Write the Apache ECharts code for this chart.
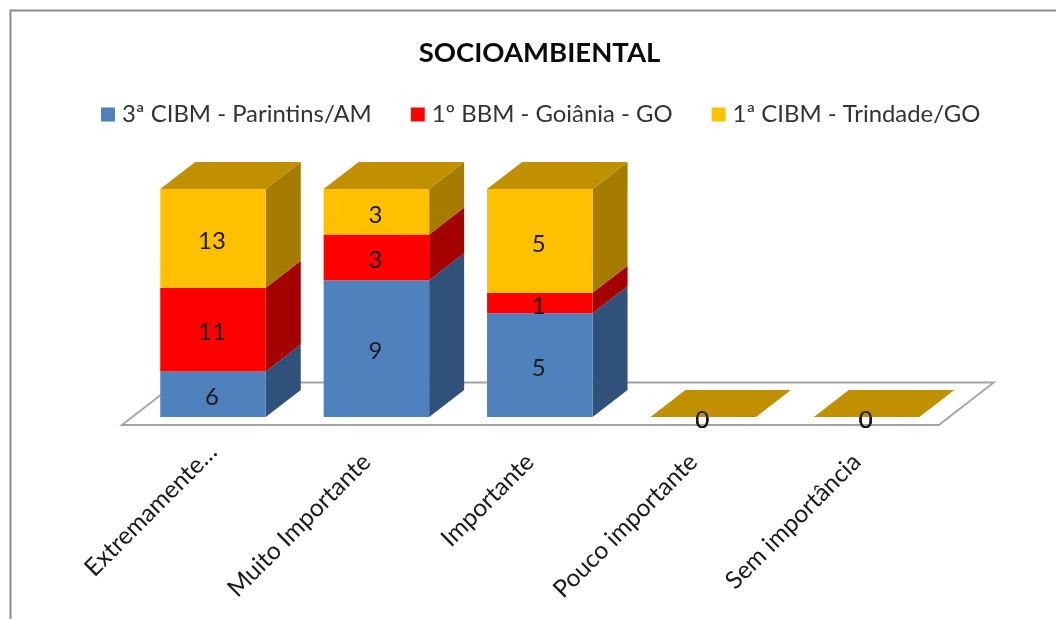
<!DOCTYPE html>
<html>
<head>
<meta charset="utf-8">
<style>html,body{margin:0;padding:0;background:#fff}#c{width:1056px;height:619px}</style>
<script src="https://cdn.jsdelivr.net/npm/echarts@6/dist/echarts.min.js"></script>
</head>
<body>
<div id="c"></div>
<script>
var chartTitle = 'SOCIOAMBIENTAL';
var categories = ['Extremamente…', 'Muito Importante', 'Importante', 'Pouco importante', 'Sem importância'];
var seriesNames = ['3ª CIBM - Parintins/AM', '1º BBM - Goiânia - GO', '1ª CIBM - Trindade/GO'];
var parintins = [6, 9, 5, 0, 0];
var goiania = [11, 3, 1, 0, 0];
var trindade = [13, 3, 5, 0, 0];
var stacks = [parintins, goiania, trindade];
var frontColors = ['#4F81BD', '#FF0000', '#FFC000'];
var sideColors = ['#30527A', '#A50000', '#A67C00'];
var topColor = '#C09000';
var FONT = 'Lato';
var DX = 35, DY = -27, BAR_W = 105.5;

function seriesData(k) {
  return categories.map(function (c, i) {
    var total = 0, before = 0;
    stacks.forEach(function (s, j) { total += s[i]; if (j < k) before += s[i]; });
    var start = total ? before / total : 0;
    var end = total ? (before + stacks[k][i]) / total : 0;
    return [i, start, end, stacks[k][i]];
  });
}
function poly(pts, color) {
  return { type: 'polygon', shape: { points: pts }, style: { fill: color }, silent: true };
}
function barRenderer(k) {
  return function (params, api) {
    var i = api.value(0);
    var p0 = api.coord([i, api.value(1)]);
    var p1 = api.coord([i, api.value(2)]);
    var l = p0[0] - BAR_W / 2, r = p0[0] + BAR_W / 2, b = p0[1], t = p1[1];
    var children = [];
    if (b - t > 0) {
      children.push(poly([[r, b], [r + DX, b + DY], [r + DX, t + DY], [r, t]], sideColors[k]));
      children.push(poly([[l, b], [r, b], [r, t], [l, t]], frontColors[k]));
    }
    if (k === stacks.length - 1) {
      children.push(poly([[l, t], [r, t], [r + DX, t + DY], [l + DX, t + DY]], topColor));
    }
    children.push({
      type: 'text', silent: true,
      style: {
        text: String(api.value(3)), x: p0[0] - 1, y: (b + t) / 2 + 3,
        textAlign: 'center', textVerticalAlign: 'middle',
        fontFamily: FONT, fontSize: 24, fill: '#1a1a1a'
      }
    });
    return { type: 'group', children: children };
  };
}
function floorRenderer(params, api) {
  var first = api.coord([0, 0]);
  var last = api.coord([categories.length - 1, 0]);
  var band = api.size([1, 0])[0];
  var l = first[0] - band / 2 - 9.5, r = last[0] + band / 2 - 9.5, y = first[1] + 8;
  return {
    type: 'polygon',
    shape: { points: [[l, y], [r, y], [r + 55, y - 42.5], [l + 55, y - 42.5]] },
    style: { fill: '#fff', stroke: '#A3A3A3', lineWidth: 1.8 },
    silent: true
  };
}

var series = [{
  type: 'custom', name: 'floor', renderItem: floorRenderer, z: 1,
  data: [[0, 0]], encode: { x: 0, y: 1 }, silent: true
}];
seriesNames.forEach(function (name, k) {
  series.push({
    type: 'custom', name: name, renderItem: barRenderer(k), z: 2 + k,
    data: seriesData(k), encode: { x: 0, y: [1, 2] },
    itemStyle: { color: frontColors[k] }, silent: true
  });
});

var chart = echarts.init(document.getElementById('c'), null, { renderer: 'canvas' });
chart.setOption({
  animation: false,
  backgroundColor: '#fff',
  title: {
    text: chartTitle, left: 534.5, top: 34, textAlign: 'center',
    textStyle: { fontFamily: FONT, fontSize: 27.5, fontWeight: 'bold', color: '#0a0a0a' }
  },
  legend: {
    left: 101, top: 102.5, padding: 0, itemWidth: 14, itemHeight: 14, itemGap: 39,
    icon: 'rect', selectedMode: false,
    data: seriesNames,
    textStyle: { fontFamily: FONT, fontSize: 23.9, color: '#333', padding: [0, 0, 0, 2] }
  },
  grid: { left: 131.3, right: 1056 - 948.3, top: 189, bottom: 202 },
  xAxis: {
    type: 'category',
    data: categories.map(function (c, i) {
      return { value: c, textStyle: { padding: [0, i === 0 ? 0 : 14, 0, 0] } };
    }),
    axisLine: { show: false }, axisTick: { show: false },
    axisLabel: {
      rotate: 45, interval: 0, margin: 31,
      fontFamily: FONT, fontSize: 24.5, color: '#1a1a1a'
    }
  },
  yAxis: { type: 'value', min: 0, max: 1, show: false },
  series: series,
  graphic: [{
    type: 'polyline', silent: true,
    shape: { points: [[10.5, 619], [10.5, 10.5], [1056, 10.5]] },
    style: { fill: null, stroke: '#8C8C8C', lineWidth: 2 }
  }]
});
</script>
</body>
</html>
